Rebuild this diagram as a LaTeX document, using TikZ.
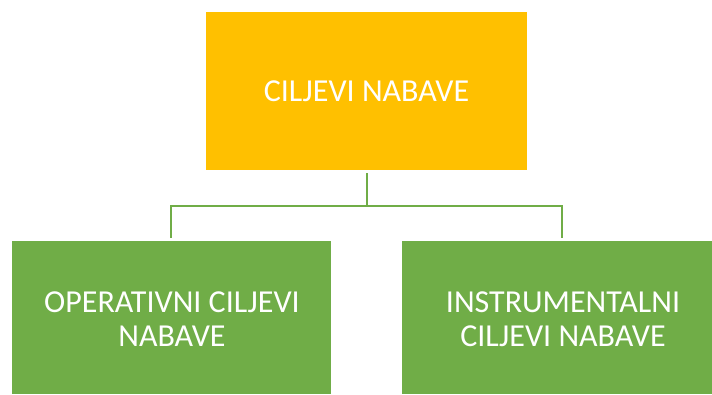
\documentclass[tikz,border=0pt]{standalone}
\usepackage{fontspec}
\setmainfont{Carlito}
\definecolor{gold}{HTML}{FFC000}
\definecolor{leaf}{HTML}{70AD47}
\begin{document}
\begin{tikzpicture}[x=1pt,y=-1pt,
  box/.style={inner sep=0pt, outer sep=0pt, text=white, align=center},
  link/.style={draw=leaf, line width=2.2pt}]
\useasboundingbox (0,0) rectangle (712,394);
\fill[gold] (206,12) rectangle (527,170);
\fill[leaf] (12,241) rectangle (331,394);
\fill[leaf] (402,241) rectangle (712,394);
\node[box, font=\fontsize{32}{34}\selectfont] (top) at (366.5,91) {CILJEVI NABAVE};
\node[box, font=\fontsize{32}{34}\selectfont] (left) at (172,319.5) {OPERATIVNI CILJEVI\\NABAVE};
\node[box, font=\fontsize{32}{34}\selectfont] (right) at (563,319.5) {INSTRUMENTALNI\\CILJEVI NABAVE};
\coordinate (a) at (367,173);
\coordinate (m) at (367,206);
\coordinate (l) at (171,238);
\coordinate (r) at (562,238);
\draw[link] (a) -- (m) -| (l);
\draw[link] (m) -| (r);
\end{tikzpicture}
\end{document}
